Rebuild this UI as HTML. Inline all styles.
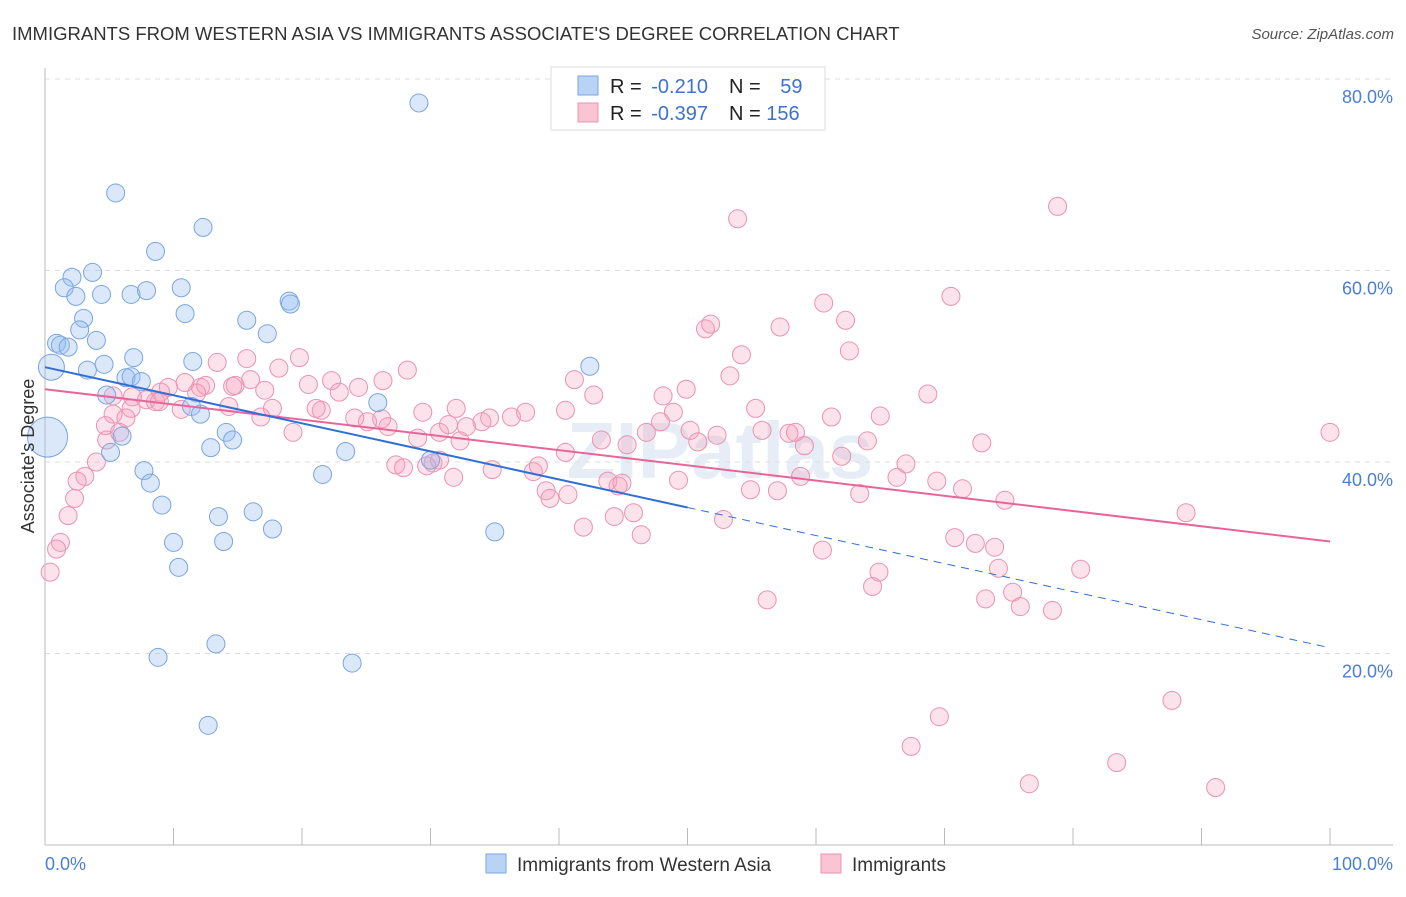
<!DOCTYPE html>
<html><head><meta charset="utf-8"><style>
body{margin:0;background:#fff;font-family:"Liberation Sans",sans-serif;}
svg text{font-family:"Liberation Sans",sans-serif;}
</style></head><body>
<svg id="chart" width="1406" height="892">
<text x="12" y="40" font-size="18.5" fill="#333">IMMIGRANTS FROM WESTERN ASIA VS IMMIGRANTS ASSOCIATE'S DEGREE CORRELATION CHART</text>
<text x="1394" y="39" font-size="15" fill="#555" font-style="italic" text-anchor="end">Source: ZipAtlas.com</text>
<text x="720" y="478" font-size="80" fill="#e6edf6" text-anchor="middle" font-weight="bold">ZIPatlas</text>
<g id="grid"></g><g id="pts"></g><g id="lines"></g>
<text transform="translate(34,456) rotate(-90)" font-size="18" fill="#333" text-anchor="middle">Associate's Degree</text>
<text x="45" y="870" font-size="18" fill="#4a7fd6">0.0%</text>
<text x="1393" y="870" font-size="18" fill="#4a7fd6" text-anchor="end">100.0%</text>
<g>
<rect x="551" y="67" width="274" height="63" fill="#fff" stroke="#ddd"/>
<rect x="578" y="76" width="20" height="19" fill="#b9d3f5" stroke="#7aa5e3"/>
<rect x="578" y="103" width="20" height="19" fill="#f9c5d4" stroke="#eb93af"/>
<text x="610" y="93" font-size="20" fill="#222">R = <tspan fill="#3d72d0" dx="4">-0.210</tspan></text>
<text x="729" y="93" font-size="20" fill="#222">N = <tspan fill="#3d72d0" dx="14">59</tspan></text>
<text x="610" y="120" font-size="20" fill="#222">R = <tspan fill="#3d72d0" dx="4">-0.397</tspan></text>
<text x="729" y="120" font-size="20" fill="#222">N = <tspan fill="#3d72d0">156</tspan></text>
</g>
<g>
<rect x="486" y="854" width="20" height="19" fill="#b9d3f5" stroke="#7aa5e3"/>
<text x="517" y="871" font-size="19" fill="#333">Immigrants from Western Asia</text>
<rect x="821" y="854" width="20" height="19" fill="#f9c5d4" stroke="#eb93af"/>
<text x="852" y="871" font-size="19" fill="#333">Immigrants</text>
</g>
</svg>
<script>
const yTicks=[20,40,60,80];
const yTickLabels=["20.0%","40.0%","60.0%","80.0%"];
const xTicks=[0,10,20,30,40,50,60,70,80,90,100];
const blueX=[29.1,5.5,12.3,8.6,2.1,3.7,1.5,2.4,4.4,6.7,7.9,10.6,19.0,19.1,10.9,3.0,15.7,2.7,17.3,4.0,0.9,1.2,1.8,6.9,11.5,4.6,0.5,3.3,42.4,6.3,6.7,7.5,4.8,11.4,12.1,25.9,14.1,14.6,6.0,5.1,12.9,23.4,30.0,7.7,21.6,8.2,9.1,13.5,16.2,17.7,10.0,13.9,10.4,35.0,8.8,13.3,23.9,12.7,0.2];
const blueY=[77.5,68.1,64.5,62.0,59.3,59.8,58.2,57.3,57.5,57.5,57.9,58.2,56.8,56.5,55.5,55.0,54.8,53.8,53.4,52.7,52.4,52.2,52.0,50.9,50.5,50.2,49.9,49.6,50.0,48.8,48.9,48.4,47.0,45.8,45.0,46.2,43.1,42.3,42.7,41.0,41.5,41.1,40.2,39.1,38.7,37.8,35.5,34.3,34.8,33.0,31.6,31.7,29.0,32.7,19.6,21.0,19.0,12.5,42.6];
const blueSize=[];blueY.forEach((v,i)=>blueSize.push(i==26?13:(i==58?20:9)));
const pinkX=[53.9,78.8,70.5,60.6,51.4,51.8,57.2,62.3,54.2,62.6,19.8,13.4,15.7,28.2,18.2,16.0,26.3,22.3,20.5,14.8,9.6,10.9,12.1,14.6,12.5,24.4,22.9,17.1,11.8,9.0,7.9,8.6,6.8,5.3,41.2,42.7,48.1,49.9,53.3,68.7,100,55.3,48.9,47.9,40.5,29.4,32.0,36.3,34.6,34.0,37.4,30.7,32.8,31.4,21.5,21.1,24.1,26.2,25.1,14.3,17.7,16.8,10.6,6.7,5.3,6.3,8.9,4.7,4.8,5.8,19.3,26.7,29.0,32.3,43.3,45.3,46.8,50.2,52.3,55.8,57.9,58.4,59.1,61.2,65.0,64.0,72.9,50.8,49.3,58.8,62.0,67.0,66.3,69.4,71.4,74.7,30.2,27.3,27.9,29.7,30.7,34.8,38.0,38.4,40.5,31.8,43.8,44.9,44.6,54.9,57.0,63.4,39.0,40.7,39.3,44.3,41.9,45.8,46.4,52.8,4.0,3.1,2.5,2.3,1.8,1.2,0.9,0.4,88.8,60.5,70.8,72.4,73.9,74.2,80.6,64.9,64.4,75.3,73.2,56.2,75.9,78.4,69.6,67.4,87.7,83.4,76.6,91.1];
const pinkY=[65.4,66.7,57.3,56.6,53.9,54.4,54.1,54.8,51.2,51.6,50.9,50.4,50.8,49.6,49.8,48.6,48.5,48.5,48.1,48.0,47.8,48.3,47.8,47.9,48.0,47.8,47.3,47.5,47.2,47.3,46.5,46.3,46.8,46.9,48.6,47.0,46.9,47.6,49.0,47.1,43.1,45.6,45.2,44.2,45.4,45.2,45.6,44.7,44.6,44.2,45.2,43.1,43.7,43.9,45.4,45.6,44.6,44.5,44.2,45.8,45.6,44.7,45.5,45.6,45.0,44.6,46.3,43.8,42.3,43.1,43.1,43.7,42.5,42.2,42.3,41.8,43.1,43.3,42.8,43.3,43.0,43.1,41.7,44.7,44.8,42.2,42.0,42.1,38.1,38.5,40.6,39.8,38.4,38.0,37.2,36.0,39.9,39.7,39.4,39.6,40.2,39.2,39.0,39.6,41.0,38.4,38.0,37.8,37.5,37.1,37.0,36.7,37.0,36.6,36.2,34.3,33.2,34.7,32.4,34.0,40.0,38.5,38.0,36.2,34.4,31.6,30.9,28.5,34.7,30.8,32.1,31.5,31.1,28.9,28.8,28.5,27.0,26.4,25.7,25.6,24.9,24.5,13.4,10.3,15.1,8.6,6.4,6.0];
const blueTrend=[49.9,20.6], blueSolidEnd=50;
const pinkTrend=[47.6,31.7];
const X0=45,X1=1330,Y0=845,YS=9.575;
const sx=v=>X0+(X1-X0)*v/100, sy=v=>Y0-v*YS;
const NS="http://www.w3.org/2000/svg";
function mk(tag,attrs,parent){const e=document.createElementNS(NS,tag);for(const k in attrs)e.setAttribute(k,attrs[k]);document.getElementById(parent).appendChild(e);return e;}
yTicks.forEach((t,i)=>{
 const l=mk('line',{x1:45,x2:1393,y1:sy(t),y2:sy(t),stroke:'#ddd','stroke-dasharray':'5,5'},'grid');
 
 
 const tx=mk('text',{x:1393,y:sy(t)+24,'font-size':18,fill:'#4a7fd6','text-anchor':'end'},'grid');
 tx.textContent=yTickLabels[i];
 
 
});
const ax=mk('line',{x1:45,x2:45,y1:68,y2:845,stroke:'#bbb'},'grid');


const bx=mk('line',{x1:45,x2:1393,y1:845,y2:845,stroke:'#bbb'},'grid');


xTicks.forEach(t=>{
 const l=mk('line',{x1:sx(t),x2:sx(t),y1:828,y2:845,stroke:'#bbb'},'grid');
 
 
});
pinkX.forEach((x,i)=>{
 const c=mk('circle',{cx:sx(x),cy:sy(pinkY[i]),r:9,fill:'rgba(244,160,188,0.3)',stroke:'#eb93af','stroke-width':1},'pts');
 
 
});
blueX.forEach((x,i)=>{
 const c=mk('circle',{cx:sx(x),cy:sy(blueY[i]),r:blueSize[i],fill:'rgba(150,190,240,0.35)',stroke:'#7aa5e3','stroke-width':1},'pts');
 
 
});
const bAt=x=>blueTrend[0]+(blueTrend[1]-blueTrend[0])*x/100;
const pAt=x=>pinkTrend[0]+(pinkTrend[1]-pinkTrend[0])*x/100;
let l=mk('line',{x1:sx(0),y1:sy(pAt(0)),x2:sx(100),y2:sy(pAt(100)),stroke:'#e8659a','stroke-width':2},'lines');


l=mk('line',{x1:sx(0),y1:sy(bAt(0)),x2:sx(blueSolidEnd),y2:sy(bAt(blueSolidEnd)),stroke:'#2f6fd6','stroke-width':2},'lines');


l=mk('line',{x1:sx(blueSolidEnd),y1:sy(bAt(blueSolidEnd)),x2:sx(100),y2:sy(bAt(100)),stroke:'#2f6fd6','stroke-width':1,'stroke-dasharray':'8,6'},'lines');


</script>
</body></html>
